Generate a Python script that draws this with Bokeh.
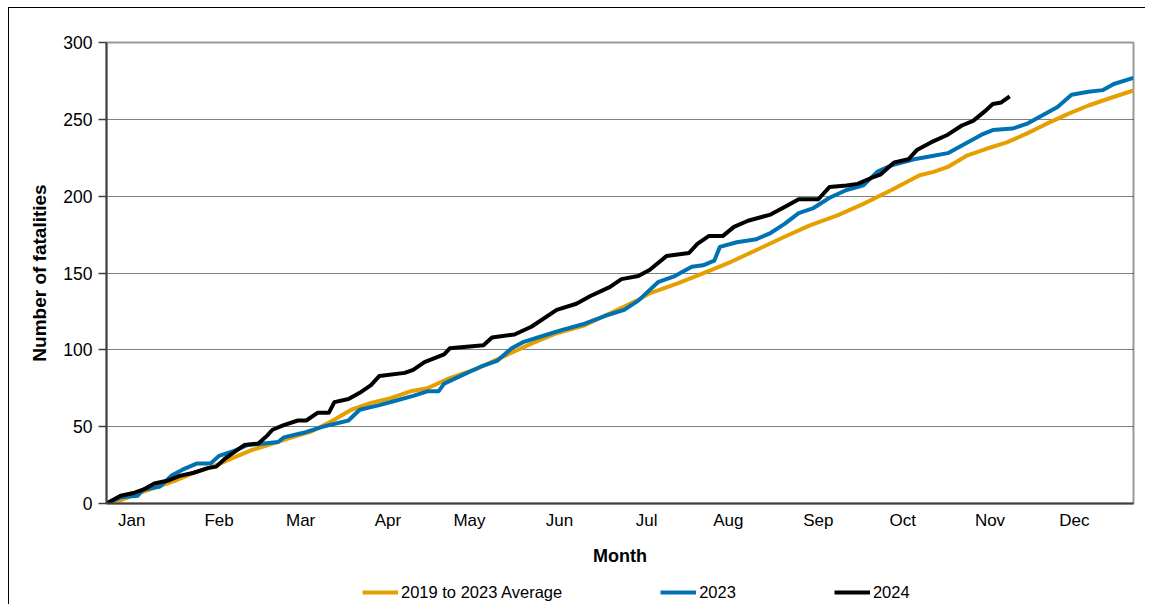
from bokeh.plotting import figure
from bokeh.layouts import column
from bokeh.models import Legend, LegendItem, FixedTicker, Range1d
from bokeh.embed import file_html
from bokeh.resources import INLINE

# ---- data (day of year, cumulative fatalities) ----
months = ["Jan", "Feb", "Mar", "Apr", "May", "Jun", "Jul", "Aug", "Sep", "Oct", "Nov", "Dec"]
month_label_days = [9, 40, 69, 100, 129, 161, 192, 221, 253, 283, 314, 344]

avg_days = [0, 3, 10, 17, 24, 31, 38, 45, 52, 58, 65, 73, 80, 87, 94, 101, 108, 114, 122, 132,
            141, 151, 160, 170, 179, 189, 193, 203, 212, 222, 231, 241, 250, 260, 269, 279, 282,
            289, 294, 299, 306, 313, 320, 327, 334, 342, 349, 356, 365]
avg_vals = [0, 0.6, 5.8, 10.2, 14.5, 19.9, 24.2, 29.7, 35, 38.3, 42.6, 47, 53.5, 61, 65.4, 68.6,
            73, 75, 81.6, 88, 95.6, 104, 110.8, 116, 123.8, 132.5, 136.8, 143.3, 149.8, 157.3,
            165, 173.6, 181, 187.7, 195, 204, 207, 213.6, 215.8, 219, 226.6, 231, 235, 240.7,
            247, 253.7, 259, 263.4, 268.8]

y2023_days = [0, 5, 11, 13, 19, 23, 27, 32, 37, 40, 45, 50, 56, 61, 63, 70, 77, 86, 90, 97,
              103, 109, 114, 118, 120, 127, 133, 139, 144, 148, 155, 162, 170, 177, 184, 189,
              196, 202, 208, 212, 216, 218, 224, 231, 236, 241, 246, 251, 257, 263, 269, 274,
              279, 287, 293, 299, 305, 311, 315, 322, 327, 333, 338, 343, 349, 354, 358, 365]
y2023_vals = [0, 4, 5, 9, 11, 18, 22, 26, 26, 31, 34, 38, 39, 40, 43, 46, 50, 54, 61, 64,
              67, 70, 73, 73, 78, 84, 89, 93, 101, 105, 109, 113, 117, 122, 126, 132,
              144, 148, 154, 155, 158, 167, 170, 172, 176, 182, 189, 192, 199, 204, 207, 216,
              220, 224, 226, 228, 234, 240, 243, 244, 247, 253, 258, 266, 268, 269, 273, 277]

y2024_days = [0, 5, 10, 13, 17, 22, 26, 31, 36, 39, 42, 45, 49, 54, 57, 59, 63, 68, 71, 75,
              79, 81, 86, 90, 94, 97, 106, 109, 113, 120, 122, 134, 137, 145, 151, 160, 167,
              172, 179, 183, 189, 193, 199, 207, 210, 214, 219, 223, 228, 236, 242, 246, 253,
              257, 263, 267, 272, 275, 280, 285, 288, 293, 299, 304, 308, 312, 315, 318, 321]
y2024_vals = [0, 5, 7, 9, 13, 15, 18, 20, 23, 24, 29, 33, 38, 39, 44, 48, 51, 54, 54, 59,
              59, 66, 68, 72, 77, 83, 85, 87, 92, 97, 101, 103, 108, 110, 115, 126, 130,
              135, 141, 146, 148, 152, 161, 163, 169, 174, 174, 180, 184, 188, 194, 198, 198,
              206, 207, 208, 212, 214, 222, 224, 230, 235, 240, 246, 249, 255, 260, 261, 265]

y_ticks = [0, 50, 100, 150, 200, 250, 300]
series_labels = ["2019 to 2023 Average", "2023", "2024"]
series_colors = ["#E69F00", "#0072B2", "#000000"]

FONT = "Liberation Sans"

p = figure(width=1145, height=568, output_backend="svg", toolbar_location=None,
           x_range=Range1d(0, 365), y_range=Range1d(0, 300),
           min_border_left=106, min_border_right=12, min_border_top=42, min_border_bottom=64,
           background_fill_color="white", border_fill_alpha=0)

p.outline_line_color = "#9a9a9a"
p.outline_line_width = 2

r_avg = p.line(avg_days, avg_vals, line_color=series_colors[0], line_width=4, line_join="round")
r_23 = p.line(y2023_days, y2023_vals, line_color=series_colors[1], line_width=4, line_join="round")
r_24 = p.line(y2024_days, y2024_vals, line_color=series_colors[2], line_width=4, line_join="round")

# x axis
xa = p.xaxis[0]
xa.ticker = FixedTicker(ticks=month_label_days)
xa.major_label_overrides = {d: m for d, m in zip(month_label_days, months)}
xa.major_tick_line_color = None
xa.minor_tick_line_color = None
xa.axis_line_color = "#404040"
xa.axis_line_width = 2
xa.major_label_text_font = FONT
xa.major_label_text_font_size = "17px"
xa.major_label_text_color = "black"
xa.major_label_standoff = 1
xa.axis_label = "Month"
xa.axis_label_text_font = FONT
xa.axis_label_text_font_style = "bold"
xa.axis_label_text_font_size = "18px"
xa.axis_label_text_color = "black"
xa.axis_label_standoff = 13

# y axis
ya = p.yaxis[0]
ya.ticker = FixedTicker(ticks=y_ticks)
ya.major_tick_in = 0
ya.major_tick_out = 8
ya.major_tick_line_color = "#404040"
ya.major_tick_line_width = 1.5
ya.minor_tick_line_color = None
ya.axis_line_color = "#404040"
ya.axis_line_width = 2
ya.major_label_text_font = FONT
ya.major_label_text_font_size = "17.5px"
ya.major_label_text_color = "black"
ya.major_label_standoff = 6
ya.axis_label = "Number of fatalities"
ya.axis_label_text_font = FONT
ya.axis_label_text_font_style = "bold"
ya.axis_label_text_font_size = "19px"
ya.axis_label_text_color = "black"
ya.axis_label_standoff = 10

p.xgrid.visible = False
p.ygrid.grid_line_color = "black"
p.ygrid.grid_line_dash = "1 1"
p.ygrid.grid_line_width = 1

# legend strip below the chart (its frame is aligned with the chart frame by the column)
p2 = figure(width=1145, height=36, output_backend="svg", toolbar_location=None,
            x_range=Range1d(0, 1), y_range=Range1d(0, 1), min_border=0,
            border_fill_alpha=0, background_fill_alpha=0)
p2.axis.visible = False
p2.grid.visible = False
p2.outline_line_color = None
# proxy renderers for the legend keys (their points lie outside the strip's visible range)
dummies = [p2.line([-5, -4], [-5, -4], line_color=c, line_width=4) for c in series_colors]
legend = Legend(items=[LegendItem(label=lab, renderers=[r]) for lab, r in zip(series_labels, dummies)],
                orientation="horizontal", location=(256, 2), spacing=98,
                glyph_width=36, glyph_height=20, label_height=20, label_standoff=3,
                label_text_font=FONT, label_text_font_size="16.5px", label_text_color="black",
                border_line_color=None, background_fill_alpha=0, padding=0, margin=0)
p2.add_layout(legend, "center")

layout = column(p, p2, spacing=0)
layout.styles = {
    "background": "linear-gradient(#000, #000) 8px 7px / 1px 100% no-repeat, "
                  "linear-gradient(#000, #000) 8px 7px / 100% 1px no-repeat, white"
}

open("out.html", "w").write(file_html(layout, INLINE))
